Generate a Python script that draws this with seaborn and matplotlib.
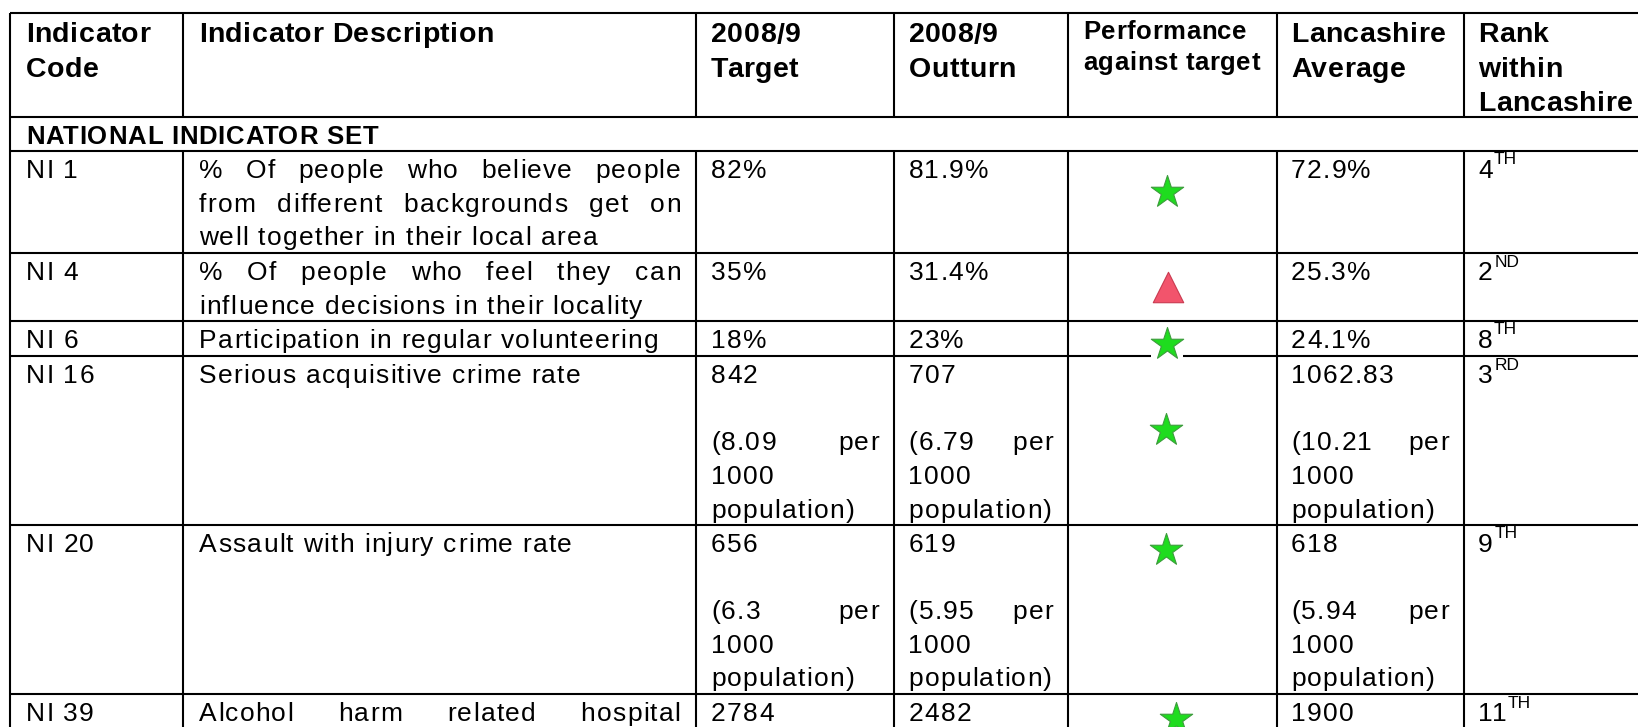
import matplotlib
matplotlib.use("Agg")
import matplotlib.pyplot as plt
from matplotlib.font_manager import FontProperties
import numpy as np
import pandas as pd
import seaborn as sns

# ---------------- data ----------------
headers = ["Indicator\nCode", "Indicator Description", "2008/9\nTarget", "2008/9\nOutturn",
           "Performance\nagainst target", "Lancashire\nAverage", "Rank\nwithin\nLancashire"]
section_title = "NATIONAL INDICATOR SET"
codes = ["NI 1", "NI 4", "NI 6", "NI 16", "NI 20", "NI 39"]
descriptions = [
    "% Of people who believe people\nfrom different backgrounds get on\nwell together in their local area",
    "% Of people who feel they can\ninfluence decisions in their locality",
    "Participation in regular volunteering",
    "Serious acquisitive crime rate",
    "Assault with injury crime rate",
    "Alcohol harm related hospital\nadmission rates",
]
targets = ["82%", "35%", "18%", "842\n\n(8.09 per\n1000\npopulation)",
           "656\n\n(6.3 per\n1000\npopulation)", "2784"]
outturns = ["81.9%", "31.4%", "23%", "707\n\n(6.79 per\n1000\npopulation)",
            "619\n\n(5.95 per\n1000\npopulation)", "2482"]
lancs_avg = ["72.9%", "25.3%", "24.1%", "1062.83\n\n(10.21 per\n1000\npopulation)",
             "618\n\n(5.94 per\n1000\npopulation)", "1900"]
rank_num = ["4", "2", "8", "3", "9", "11"]
rank_suffix = ["TH", "ND", "TH", "RD", "TH", "TH"]
performance = ["star", "triangle", "star", "star", "star", "star"]

# ---------------- layout (pixels) ----------------
W, H = 1638, 727
col_lines = [10, 183, 695.5, 893.5, 1068, 1276.5, 1463.5]
text_left = [26, 199, 711, 908.5, 1083, 1291, 1478]
pad_right = 15
y_top = 13.3
y_head_bot = 117.3
y_sect_bot = 151
row_bottoms = [253.3, 320.7, 356, 524.5, 694.3, 800]
marker_x = [1167, 1167.5, 1167, 1166, 1166, 1176]
marker_y = [191.6, 287, 343.6, 429.6, 549.6, 718.6]

BODY_FS, BODY_TR = 19, 1.25
HEAD_FS, HEAD_TR = 20.5, 0.5
PERF_FS, PERF_TR = 18.5, 0.6
SECT_FS, SECT_TR = 18.5, 0.8
LINE_H = 33.7
FAMILY = ["Liberation Sans", "DejaVu Sans"]

sns.set_theme(style="white")
plt.rcParams["font.family"] = FAMILY

fig = plt.figure(figsize=(W / 100, H / 100), dpi=100)
ax = fig.add_axes([0, 0, 1, 1])
ax.set_xlim(0, W)
ax.set_ylim(H, 0)
ax.axis("off")
renderer = fig.canvas.get_renderer()

_cache = {}


def ink_w(s, fs, weight):
    key = (s, fs, weight)
    if key not in _cache:
        fp = FontProperties(family=FAMILY, size=fs, weight=weight)
        _cache[key] = renderer.get_text_width_height_descent(s, fp, ismath=False)[0]
    return _cache[key]


def str_width(s, fs, weight, tr):
    return ink_w(s, fs, weight) + (len(s) - 1) * tr


def draw_tracked(x, y, s, fs, weight, tr, color="black"):
    for i, c in enumerate(s):
        if c == " ":
            continue
        xi = x + ink_w(s[:i + 1], fs, weight) - ink_w(c, fs, weight) + i * tr
        ax.text(xi, y, c, fontsize=fs, fontweight=weight, ha="left", va="baseline", color=color)
    return str_width(s, fs, weight, tr)


def draw_line(x0, x1, y, line, justify, fs, weight, tr):
    words = line.split(" ")
    if not justify or len(words) < 2:
        draw_tracked(x0, y, line, fs, weight, tr)
        return
    widths = [str_width(w, fs, weight, tr) for w in words]
    gap = (x1 - x0 - sum(widths)) / (len(words) - 1)
    x = x0
    for w, wd in zip(words, widths):
        draw_tracked(x, y, w, fs, weight, tr)
        x += wd + gap


def draw_cell(text, x0, x1, top, fs=BODY_FS, weight="normal", tr=BODY_TR,
              first=27, lh=LINE_H, justify=True):
    lines = text.split("\n")
    for i, ln in enumerate(lines):
        if ln == "":
            continue
        draw_line(x0, x1, top + first + i * lh, ln, justify and i < len(lines) - 1, fs, weight, tr)


# ---------------- grid lines ----------------
lw = 1.5
hl = [y_top, y_head_bot, y_sect_bot] + row_bottoms[:-1]
ax.hlines(hl, col_lines[0], W + 5, color="black", lw=lw, zorder=1)
ax.vlines(col_lines[0], y_top, H + 5, color="black", lw=lw, zorder=1)
for cx in col_lines[1:]:
    ax.vlines(cx, y_top, y_head_bot, color="black", lw=lw, zorder=1)
    ax.vlines(cx, y_sect_bot, H + 5, color="black", lw=lw, zorder=1)

# ---------------- header ----------------
for j, h in enumerate(headers):
    x1 = (col_lines[j + 1] if j + 1 < len(col_lines) else W) - pad_right
    if j == 4:
        draw_cell(h, text_left[j], x1, y_top, fs=PERF_FS, weight="bold", tr=PERF_TR,
                  first=26, lh=31, justify=False)
    else:
        draw_cell(h, text_left[j], x1, y_top, fs=HEAD_FS, weight="bold", tr=HEAD_TR,
                  first=29.2, lh=34.3, justify=False)

draw_tracked(text_left[0], y_head_bot + 26.5, section_title, SECT_FS, "bold", SECT_TR)

# ---------------- body ----------------
row_tops = [y_sect_bot] + row_bottoms[:-1]
for i in range(len(codes)):
    top = row_tops[i]
    cols = [codes[i], descriptions[i], targets[i], outturns[i], None, lancs_avg[i]]
    for j, val in enumerate(cols):
        if val is None:
            continue
        draw_cell(val, text_left[j], col_lines[j + 1] - pad_right, top)
    # rank with superscript
    yb = top + 27
    w = draw_tracked(text_left[6], yb, rank_num[i], BODY_FS, "normal", BODY_TR)
    ax.text(text_left[6] + w + 1.5, yb - 13.5, rank_suffix[i], fontsize=12.5, ha="left",
            va="baseline", color="black")

# ---------------- performance markers ----------------
perf = pd.DataFrame({"x": marker_x, "y": marker_y, "kind": performance})
ax.scatter(perf["x"], perf["y"], marker="s", s=560, color="white", edgecolors="none", zorder=2)
stars = perf[perf["kind"] == "star"]
tris = perf[perf["kind"] == "triangle"]
sns.scatterplot(data=stars, x="x", y="y", marker="*", s=600, color="#1fdc1f",
                edgecolor="#3c9c3c", linewidth=0.8, legend=False, ax=ax, zorder=3)
sns.scatterplot(data=tris, x="x", y="y", marker="^", s=480, color="#f2546c",
                edgecolor="#c93a50", linewidth=0.8, legend=False, ax=ax, zorder=3)
ax.set_xlim(0, W)
ax.set_ylim(H, 0)
ax.axis("off")

fig.savefig("out.png", dpi=100, facecolor="white")
